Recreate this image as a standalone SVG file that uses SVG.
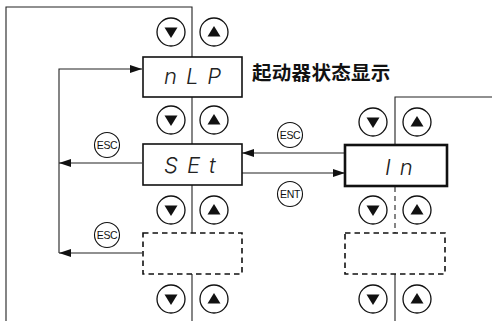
<svg xmlns="http://www.w3.org/2000/svg" width="497" height="321" viewBox="0 0 497 321">
<style>
.ln{fill:none;stroke:#222;stroke-width:1.1}
.dash{fill:none;stroke:#222;stroke-width:1.1;stroke-dasharray:5 4}
.box{fill:#fff;stroke:#111;stroke-width:1.6}
.boxb{fill:#fff;stroke:#111;stroke-width:2.6}
.dbox{fill:#fff;stroke:#111;stroke-width:1.6;stroke-dasharray:5.5 4}
.btn{fill:#fff;stroke:#111;stroke-width:1.3}
.tri{fill:#111}
.key{fill:#fff;stroke:#111;stroke-width:1.1}
.kt{font-family:"Liberation Sans",Arial,sans-serif;font-size:10.5px;fill:#111;text-anchor:middle;letter-spacing:-0.4px}
.seg{font-family:Inter,"DejaVu Sans",sans-serif;font-style:italic;font-weight:300;font-size:22px;fill:#222;letter-spacing:9px}
.cn{font-family:"Noto Sans CJK SC","Noto Sans",sans-serif;font-size:19.5px;font-weight:bold;fill:#111;letter-spacing:0.3px}
</style>
<defs>
<marker id="ah" viewBox="0 0 12 8" refX="12" refY="4" markerWidth="12" markerHeight="8" markerUnits="userSpaceOnUse" orient="auto">
<path d="M0,0 L12,4 L0,8 Z" fill="#111"/>
</marker>
<g id="bdown"><circle r="14" class="btn"/><path d="M-6.5,-4.5 L6.5,-4.5 L0,6 Z" class="tri"/></g>
<g id="bup"><circle r="14" class="btn"/><path d="M-6.5,4.5 L6.5,4.5 L0,-6 Z" class="tri"/></g>
</defs>
<g id="connectors">
<path class="ln" d="M192,57 V7 H6 V321"/>
<path class="ln" d="M59,253 V69 H142" marker-end="url(#ah)"/>
<path class="ln" d="M192,97 V144"/>
<path class="ln" d="M192,185 V233"/>
<path class="ln" d="M192,274 V321"/>
<path class="ln" d="M142,163 H59" marker-end="url(#ah)"/>
<path class="ln" d="M142,253 H59" marker-end="url(#ah)"/>
<path class="ln" d="M492,97 H395 V145"/>
<path class="dash" d="M395,187 V233"/>
<path class="ln" d="M395,274 V321"/>
<path class="ln" d="M345,153 H242" marker-end="url(#ah)"/>
<path class="ln" d="M242,173 H345" marker-end="url(#ah)"/>
</g>
<g id="buttons">
<use href="#bdown" x="171" y="32"/><use href="#bup" x="214" y="32"/>
<use href="#bdown" x="171" y="120"/><use href="#bup" x="214" y="120"/>
<use href="#bdown" x="171" y="210"/><use href="#bup" x="214" y="210"/>
<use href="#bdown" x="171" y="299"/><use href="#bup" x="214" y="299"/>
<use href="#bdown" x="373" y="122"/><use href="#bup" x="417" y="122"/>
<use href="#bdown" x="373" y="210"/><use href="#bup" x="417" y="210"/>
<use href="#bdown" x="373" y="299"/><use href="#bup" x="417" y="299"/>
</g>
<g id="node-nlp">
<rect class="box" x="143" y="57" width="99" height="40"/>
<text class="seg" x="164" y="84">nLP</text>
</g>
<text class="cn" x="252" y="80">起动器状态显示</text>
<g id="node-set">
<rect class="box" x="143" y="144" width="99" height="41"/>
<text class="seg" x="164" y="173">SEt</text>
</g>
<g id="node-empty1">
<rect class="dbox" x="143" y="233" width="99" height="41"/>
</g>
<g id="node-in">
<rect class="boxb" x="345" y="145" width="102" height="41"/>
<text class="seg" x="385" y="175">In</text>
</g>
<g id="node-empty2">
<rect class="dbox" x="345" y="233" width="100" height="41"/>
</g>
<g id="keys">
<circle class="key" cx="107" cy="145" r="12.5"/><text class="kt" x="107" y="148.8">ESC</text>
<circle class="key" cx="107" cy="235" r="12.5"/><text class="kt" x="107" y="238.8">ESC</text>
<circle class="key" cx="290" cy="135" r="12.5"/><text class="kt" x="290" y="138.8">ESC</text>
<circle class="key" cx="290" cy="194" r="12.5"/><text class="kt" x="290" y="197.8">ENT</text>
</g>
</svg>
